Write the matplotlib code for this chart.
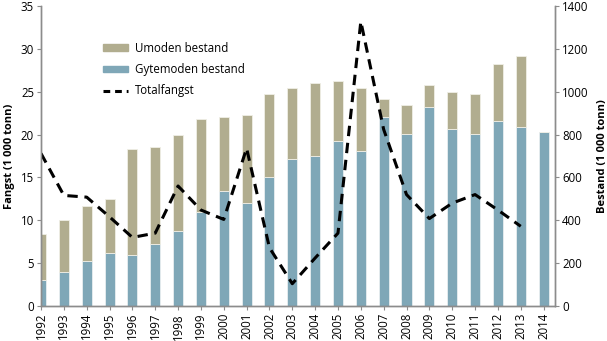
import numpy as np
import matplotlib
matplotlib.use('Agg')
import matplotlib.pyplot as plt
from matplotlib.patches import Patch
from matplotlib.lines import Line2D

plt.rcParams['font.family'] = ['Open Sans', 'DejaVu Sans']

# data
years = np.arange(1992, 2015)
# spawning stock (1 000 tonn)
gytemoden = [120, 160, 212, 248, 240, 288, 348, 440, 536, 480, 600, 688,
             700, 770, 724, 884, 804, 930, 828, 804, 864, 834, 814]
# total stock (1 000 tonn)
totalt = [336, 400, 468, 500, 732, 744, 796, 872, 880, 892, 988, 1016,
          1040, 1048, 1016, 964, 936, 1032, 1000, 988, 1128, 1168, 814]
umoden = [t - g for t, g in zip(totalt, gytemoden)]
# total catch (1 000 tonn), none for 2014
fangst_years = np.arange(1992, 2014)
totalfangst = [17.8, 12.9, 12.7, 10.4, 8.0, 8.5, 14.0, 11.2, 10.1, 18.4, 6.8, 2.6,
               5.6, 8.5, 33.2, 20.6, 13.0, 10.2, 12.0, 13.0, 11.2, 9.3]

c_gyt = '#7fa7b7'
c_umo = '#b1ad8f'
c_axis = '#8c8c8c'

fig = plt.figure(figsize=(6.07, 3.41), dpi=100)
ax = fig.add_axes([41 / 607, 35 / 341, 514 / 607, 300 / 341])
ax2 = ax.twinx()

# bars on the right axis
ax2.bar(years, gytemoden, width=0.44, color=c_gyt, edgecolor='#e8eef0', linewidth=0.6)
ax2.bar(years, umoden, bottom=gytemoden, width=0.44, color=c_umo,
        edgecolor='#f0efe6', linewidth=0.6)
ax2.set_ylim(0, 1400)
ax2.set_yticks(range(0, 1401, 200))

# catch line on the left axis, above the bars
ax.set_zorder(ax2.get_zorder() + 1)
ax.patch.set_visible(False)
ax.plot(fangst_years, totalfangst, color='black', lw=2.2, ls=(0, (3.4, 2.2)))
ax.set_ylim(0, 35)
ax.set_yticks(range(0, 36, 5))
ax.set_xlim(1992, 2014.5)
ax.set_xticks(years)
ax.set_xticklabels([str(y) for y in years], rotation=90)

for a in (ax, ax2):
    a.spines['top'].set_visible(False)
    for s in ('left', 'right', 'bottom'):
        a.spines[s].set_color(c_axis)
        a.spines[s].set_linewidth(1.0)
    a.tick_params(axis='both', labelsize=8.3, length=3, width=0.8, color=c_axis, pad=2)

ax.set_ylabel('Fangst (1 000 tonn)', fontsize=8, fontweight='bold', labelpad=4)
ax2.set_ylabel('Bestand (1 000 tonn)', fontsize=8, fontweight='bold', labelpad=6)

handles = [Patch(color=c_umo), Patch(color=c_gyt),
           Line2D([], [], color='black', lw=2.2, ls=(0, (2.2, 1.6)))]
labels = ['Umoden bestand', 'Gytemoden bestand', 'Totalfangst']
ax.legend(handles, labels, loc='upper left', bbox_to_anchor=(0.1, 0.915), frameon=False,
          fontsize=8.3, handlelength=2.2, handleheight=0.5, labelspacing=0.72,
          handletextpad=0.6)

fig.savefig('out.png', dpi=100)
